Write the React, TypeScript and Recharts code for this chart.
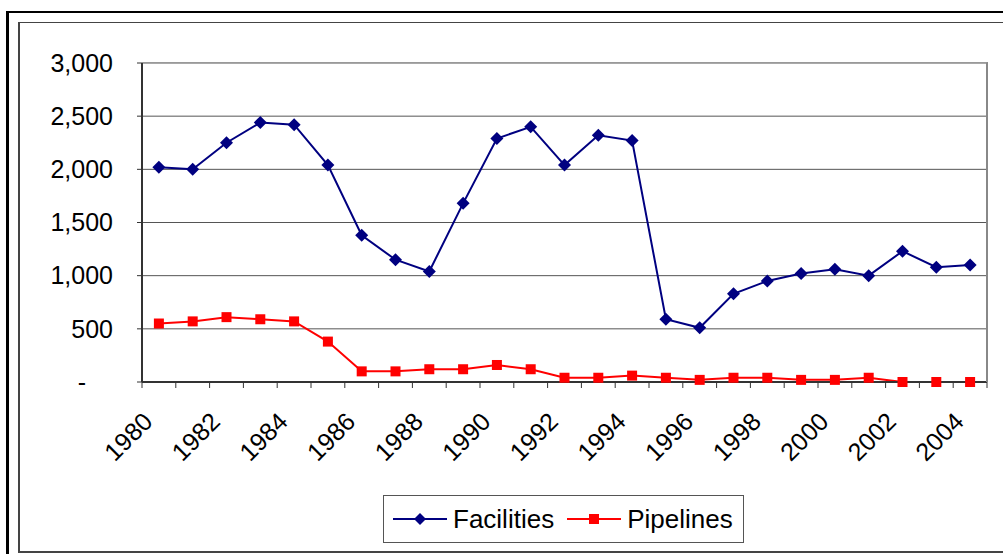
import React from 'react';
import { LineChart, Line, XAxis, YAxis, CartesianGrid, Legend } from 'recharts';

const years = [
  '1980', '1981', '1982', '1983', '1984', '1985', '1986', '1987', '1988', '1989',
  '1990', '1991', '1992', '1993', '1994', '1995', '1996', '1997', '1998', '1999',
  '2000', '2001', '2002', '2003', '2004',
];
const facilities = [
  2020, 2000, 2250, 2440, 2420, 2040, 1380, 1150, 1040, 1680,
  2290, 2400, 2040, 2320, 2270, 590, 510, 830, 950, 1020,
  1060, 1000, 1230, 1080, 1100,
];
const pipelines = [
  550, 570, 610, 590, 570, 380, 100, 100, 120, 120,
  160, 120, 40, 40, 60, 40, 20, 40, 40, 20,
  20, 40, 0, 0, 0,
];
const yTicks = [0, 500, 1000, 1500, 2000, 2500, 3000];

const data = years.map((year, i) => ({
  year,
  Facilities: facilities[i],
  Pipelines: pipelines[i],
}));

const FONT = '"Liberation Sans", Arial, sans-serif';
const W = 1003;
const H = 554;
const PLOT_LEFT = 142;
const PLOT_RIGHT = 987;
const PLOT_TOP = 63;
const PLOT_BOTTOM = 382;
const BAND = (PLOT_RIGHT - PLOT_LEFT) / years.length;

const fmt = (v: number) => (v === 0 ? '-' : v.toLocaleString('en-US'));

// y labels; the zero sits further left like Excel's accounting format
const YTick = (props: any) => {
  const { x, y, payload } = props;
  return (
    <text
      x={payload.value === 0 ? x - 27 : x}
      y={y}
      dy="0.35em"
      textAnchor="end"
      fill="#000"
      fontSize={25}
      fontFamily={FONT}
    >
      {fmt(payload.value)}
    </text>
  );
};

// tick marks between categories, rotated label on every other year
const XTick = (props: any) => {
  const { x, y, payload, index } = props;
  const left = x - BAND / 2;
  return (
    <g>
      <line x1={left} y1={y} x2={left} y2={y + 6} stroke="#333" strokeWidth={1} />
      {index === years.length - 1 && (
        <line x1={x + BAND / 2} y1={y} x2={x + BAND / 2} y2={y + 6} stroke="#333" strokeWidth={1} />
      )}
      {index % 2 === 0 && (
        <text
          x={x - 11}
          y={y + 35}
          dy="0.35em"
          textAnchor="end"
          transform={`rotate(-45, ${x - 11}, ${y + 35})`}
          fill="#000"
          fontSize={25}
          fontFamily={FONT}
        >
          {payload.value}
        </text>
      )}
    </g>
  );
};

const diamondDot = (props: any) => {
  const { cx, cy, index } = props;
  if (cx == null || cy == null) return <g key={`d-${index}`} />;
  return (
    <path
      key={`d-${index}`}
      d={`M${cx},${cy - 6.5} L${cx + 6.5},${cy} L${cx},${cy + 6.5} L${cx - 6.5},${cy} Z`}
      fill="#000080"
    />
  );
};

const squareDot = (props: any) => {
  const { cx, cy, index } = props;
  if (cx == null || cy == null) return <g key={`s-${index}`} />;
  return <rect key={`s-${index}`} x={cx - 5} y={cy - 5} width={10} height={10} fill="#FF0000" />;
};

const LegendIcon = ({ color, shape }: { color: string; shape: string }) => (
  <svg width={54} height={20} style={{ display: 'block' }}>
    <line x1={0} y1={10} x2={54} y2={10} stroke={color} strokeWidth={2} />
    {shape === 'diamond' ? (
      <path d="M27,4 L33,10 L27,16 L21,10 Z" fill={color} />
    ) : (
      <rect x={22} y={5} width={10} height={10} fill={color} />
    )}
  </svg>
);

const renderLegend = (props: any) => {
  const items = props.payload || [];
  return (
    <div
      style={{
        width: 361,
        height: 48,
        boxSizing: 'border-box',
        border: '1px solid #555',
        background: '#fff',
        display: 'flex',
        alignItems: 'center',
        paddingLeft: 9,
        fontFamily: FONT,
        fontSize: 26,
        color: '#000',
      }}
    >
      {items.map((item: any, i: number) => (
        <div key={item.value} style={{ display: 'flex', alignItems: 'center', marginRight: i === 0 ? 13 : 0 }}>
          <LegendIcon color={item.color} shape={i === 0 ? 'diamond' : 'square'} />
          <span style={{ marginLeft: 6 }}>{item.value}</span>
        </div>
      ))}
    </div>
  );
};

export default function App() {
  return (
    <div
      style={{
        position: 'absolute',
        left: 0,
        top: 0,
        width: W,
        height: H,
        overflow: 'hidden',
        background: '#fff',
        fontFamily: FONT,
      }}
    >
      {/* outer frame */}
      <div
        style={{
          position: 'absolute',
          left: 6,
          top: 11,
          width: 1020,
          height: 560,
          border: '2px solid #000',
          borderLeftWidth: 3,
        }}
      />
      {/* inner frame */}
      <div
        style={{
          position: 'absolute',
          left: 18,
          top: 22,
          width: 1010,
          height: 528,
          border: '1px solid #444',
          borderBottomWidth: 2,
          borderLeftWidth: 2,
        }}
      />
      <div style={{ position: 'absolute', left: 0, top: 0 }}>
        <LineChart
          width={W}
          height={H}
          data={data}
          margin={{ top: PLOT_TOP, right: W - PLOT_RIGHT, bottom: 0, left: 0 }}
        >
          <CartesianGrid vertical={false} stroke="#555" strokeWidth={1} />
          <XAxis
            dataKey="year"
            scale="band"
            interval={0}
            height={H - PLOT_BOTTOM}
            tickSize={0}
            tickMargin={0}
            tickLine={false}
            axisLine={{ stroke: '#333', strokeWidth: 2 }}
            tick={<XTick />}
          />
          <YAxis
            domain={[0, 3000]}
            ticks={yTicks}
            width={PLOT_LEFT}
            tickSize={5}
            tickMargin={24}
            tickLine={{ stroke: '#333' }}
            axisLine={{ stroke: '#333', strokeWidth: 2 }}
            tick={<YTick />}
          />
          <Legend
            layout="horizontal"
            verticalAlign="middle"
            align="center"
            content={renderLegend}
            wrapperStyle={{ left: 383, top: 495, width: 361, height: 48 }}
          />
          <Line
            type="linear"
            dataKey="Facilities"
            stroke="#000080"
            strokeWidth={2}
            dot={diamondDot}
            activeDot={false}
            isAnimationActive={false}
          />
          <Line
            type="linear"
            dataKey="Pipelines"
            stroke="#FF0000"
            strokeWidth={2}
            dot={squareDot}
            activeDot={false}
            isAnimationActive={false}
          />
        </LineChart>
      </div>
      {/* plot area border (top and right in grey) */}
      <div
        style={{
          position: 'absolute',
          left: PLOT_LEFT,
          top: PLOT_TOP - 1,
          width: PLOT_RIGHT - PLOT_LEFT - 1,
          height: PLOT_BOTTOM - PLOT_TOP,
          borderTop: '1px solid #999',
          borderRight: '2px solid #888',
          pointerEvents: 'none',
        }}
      />
    </div>
  );
}
